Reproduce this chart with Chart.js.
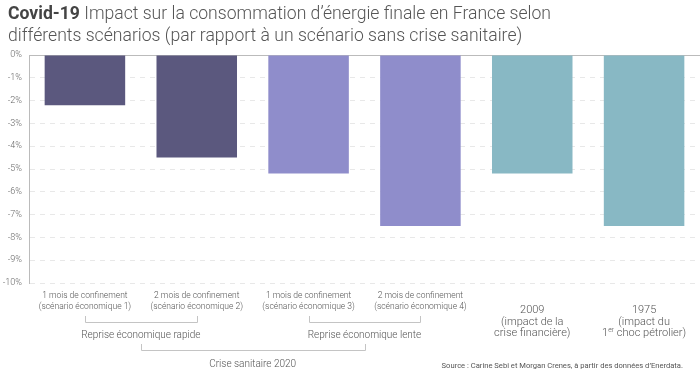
<!DOCTYPE html>
<html>
<head>
<meta charset="utf-8">
<script src="https://cdn.jsdelivr.net/npm/chart.js@4"></script>
<style>
  body { margin: 0; background: #fff; }
  #wrap { position: relative; width: 700px; height: 371px; font-family: Roboto, sans-serif; }
  #titre { position: absolute; left: 8px; top: 2px; font-size: 17.6px; line-height: 22px; color: #555; font-weight: 300; white-space: nowrap; }
  #titre b { font-weight: 700; color: #444; }
  #source { position: absolute; right: 17px; top: 361px; font-size: 7.6px; color: #555; white-space: nowrap; }
  canvas { position: absolute; left: 0; top: 0; }
</style>
</head>
<body>
<div id="wrap">
  <canvas id="myChart" width="700" height="371"></canvas>
  <div id="titre"><b>Covid-19</b> Impact sur la consommation d’énergie finale en France selon<br>différents scénarios (par rapport à un scénario sans crise sanitaire)</div>
  <div id="source">Source : Carine Sebi et Morgan Crenes, à partir des données d’Enerdata.</div>
</div>
<script>
const categories = [
    ["1 mois de confinement", "(scénario économique 1)"],
    ["2 mois de confinement", "(scénario économique 2)"],
    ["1 mois de confinement", "(scénario économique 3)"],
    ["2 mois de confinement", "(scénario économique 4)"],
    ["2009", "(impact de la", "crise financière)"],
    ["1975", "(impact du", "1^er choc pétrolier)"]
];
const valeurs = [-2.2, -4.5, -5.2, -7.5, -5.2, -7.5];
const couleurs = ["#5b587e", "#5b587e", "#8f8dcb", "#8f8dcb", "#88b8c4", "#88b8c4"];
const groupes = [
    { texte: "Reprise économique rapide", de: 0, a: 1 },
    { texte: "Reprise économique lente", de: 2, a: 3 }
];
const groupeTotal = "Crise sanitaire 2020";

// dessine libellés, accolades et groupes sous le graphique
const etiquettes = {
    id: 'etiquettes',
    afterDraw(chart) {
        const ctx = chart.ctx;
        const x = chart.scales.x;
        ctx.save();
        ctx.fillStyle = '#555';
        ctx.textAlign = 'center';
        ctx.textBaseline = 'middle';

        categories.forEach((lignes, i) => {
            const cx = x.getPixelForValue(i);
            const grand = lignes.length > 2;
            const taille = grand ? 11 : 8.5;
            const y0 = grand ? 310 : 296;
            const pas = grand ? 11.8 : 10.5;
            ctx.font = '300 ' + taille + 'px Roboto';
            lignes.forEach((l, k) => {
                const y = y0 + k * pas;
                if (l.includes('^')) {
                    const [avant, reste] = l.split('^');
                    const exp = reste.slice(0, 2);
                    const fin = reste.slice(2);
                    ctx.font = '300 ' + taille + 'px Roboto';
                    const w1 = ctx.measureText(avant).width;
                    const w3 = ctx.measureText(fin).width;
                    ctx.font = '300 7px Roboto';
                    const w2 = ctx.measureText(exp).width;
                    let sx = cx - (w1 + w2 + w3) / 2;
                    ctx.textAlign = 'left';
                    ctx.font = '300 ' + taille + 'px Roboto';
                    ctx.fillText(avant, sx, y);
                    ctx.font = '300 7px Roboto';
                    ctx.fillText(exp, sx + w1, y - 3);
                    ctx.font = '300 ' + taille + 'px Roboto';
                    ctx.fillText(fin, sx + w1 + w2, y);
                    ctx.textAlign = 'center';
                } else {
                    ctx.fillText(l, cx, y);
                }
            });
        });

        ctx.strokeStyle = '#c4c4c4';
        ctx.lineWidth = 1;
        const accolade = (x1, x2, yh, h) => {
            ctx.beginPath();
            ctx.moveTo(Math.round(x1) + 0.5, yh - h);
            ctx.lineTo(Math.round(x1) + 0.5, yh + 0.5);
            ctx.lineTo(Math.round(x2) + 0.5, yh + 0.5);
            ctx.lineTo(Math.round(x2) + 0.5, yh - h);
            ctx.stroke();
        };

        ctx.font = '300 10px Roboto';
        const centres = [];
        groupes.forEach(g => {
            const x1 = x.getPixelForValue(g.de);
            const x2 = x.getPixelForValue(g.a);
            accolade(x1, x2, 322, 6);
            const c = (x1 + x2) / 2;
            centres.push(c);
            ctx.fillText(g.texte, c, 335.5);
        });
        accolade(centres[0], centres[1], 350, 6);
        ctx.fillText(groupeTotal, (centres[0] + centres[1]) / 2, 364);
        ctx.restore();
    }
};

const ctx = document.getElementById('myChart').getContext('2d');
new Chart(ctx, {
    type: 'bar',
    data: {
        labels: categories,
        datasets: [{
            data: valeurs,
            backgroundColor: couleurs,
            borderWidth: 0,
            barPercentage: 0.72,
            categoryPercentage: 1
        }]
    },
    options: {
        responsive: false,
        animation: false,
        layout: { padding: { top: 55, bottom: 88, right: 0, left: 0 } },
        plugins: { legend: { display: false }, tooltip: { enabled: false } },
        scales: {
            x: {
                position: 'top',
                ticks: { display: false },
                grid: { display: false, drawTicks: false },
                border: { display: true, color: '#bbb', width: 1 }
            },
            y: {
                min: -10,
                max: 0,
                ticks: {
                    stepSize: 1,
                    padding: 7,
                    color: '#666',
                    font: { family: 'Roboto', size: 9, weight: '300' },
                    callback: v => v + '%'
                },
                grid: { color: '#e8e8e8', drawTicks: false },
                border: { display: true, color: '#bbb', width: 1, dash: [5, 5] },
                afterFit: s => { s.width = 29; }
            }
        }
    },
    plugins: [etiquettes]
});
</script>
</body>
</html>
